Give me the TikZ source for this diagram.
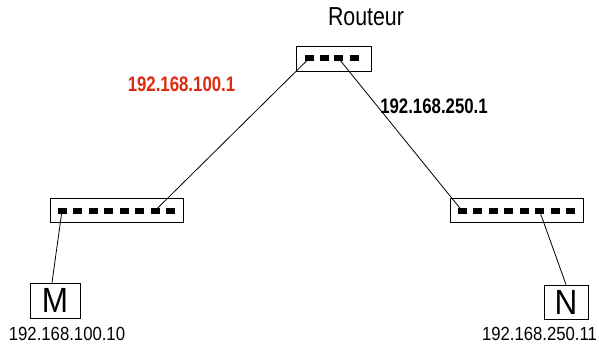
\documentclass[tikz,border=0pt]{standalone}
\usepackage{fontspec}
\setmainfont{Liberation Sans}
\newfontfamily\fRout{Liberation Sans}[FakeStretch=0.82]
\newfontfamily\fBot{Liberation Sans}[FakeStretch=0.88]
\newfontfamily\fIP{Liberation Sans Bold}[FakeStretch=0.80]
\newfontfamily\fHost{Liberation Sans}[FakeStretch=0.9]
\definecolor{ipred}{RGB}{222,42,18}
\begin{document}
\begin{tikzpicture}[x=1pt,y=-1pt,
  box/.style={draw,line width=0.8pt,inner sep=0pt,minimum width=#1},
  port/.style={fill=black,inner sep=0pt,minimum width=9pt,minimum height=6pt},
  link/.style={line width=0.8pt},
  lbl/.style={font=\fBot\fontsize{19}{19}\selectfont,inner sep=0pt},
  blbl/.style={font=\fIP\fontsize{21}{21}\selectfont,inner sep=0pt}]
\useasboundingbox (0,0) rectangle (599,344);
% boxes
\node[box=75pt,minimum height=25pt] (R) at (333.5,58.5) {};
\node[box=133pt,minimum height=24pt] (SL) at (116.5,210) {};
\node[box=133pt,minimum height=24pt] (SR) at (516.5,210) {};
\node[box=50pt,minimum height=35pt,font=\fHost\fontsize{35}{35}\selectfont] (M) at (55,300.5) {M};
\node[box=44pt,minimum height=34pt,font=\fHost\fontsize{35}{35}\selectfont] (N) at (566,302) {N};
% links (drawn under ports)
\coordinate (r1) at (309,58.5);
\coordinate (r3) at (338.7,58.5);
\coordinate (a1) at (62,210.7);
\coordinate (a7) at (155,210.7);
\coordinate (b1) at (462,210.7);
\coordinate (b6) at (539.5,210.7);
\draw[link] (r1) -- (a7);
\draw[link] (r3) -- (b1);
\draw[link] (a1) -- ([xshift=-3pt]M.north);
\draw[link] (b6) -- (N.north);
% ports
\foreach \i/\x in {1/309,2/324,3/338.7,4/354.5}
  \node[port] (rp\i) at (\x,58.5) {};
\foreach \i in {1,...,8}{
  \node[port] (ap\i) at ({62+15.5*(\i-1)},210.7) {};
  \node[port] (bp\i) at ({462+15.5*(\i-1)},210.7) {};
}
% labels
\node[inner sep=0pt,font=\fRout\fontsize{26}{26}\selectfont] (tR) at (366,16.5) {Routeur};
\node[blbl,text=ipred] (tL) at (181.5,84.5) {192.168.100.1};
\node[blbl] (tRR) at (434,106) {192.168.250.1};
\node[lbl] (tM) at (67,334.3) {192.168.100.10};
\node[lbl] (tN) at (539.5,334.3) {192.168.250.11};
\end{tikzpicture}
\end{document}
